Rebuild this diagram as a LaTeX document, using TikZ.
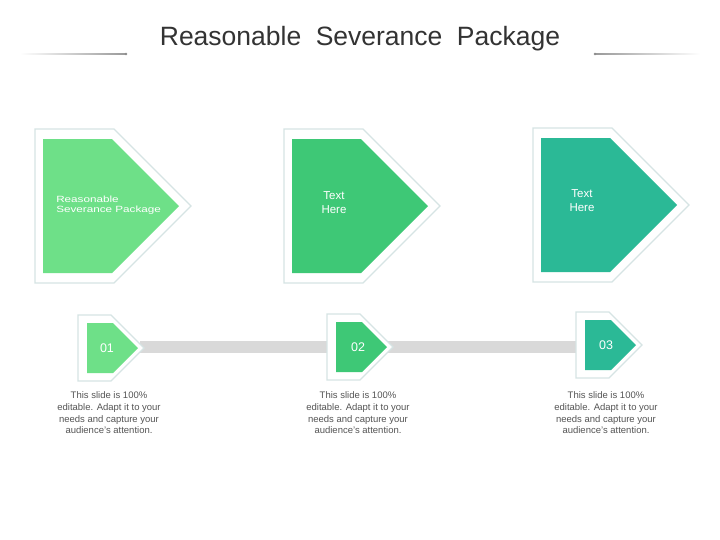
\documentclass[tikz,border=0pt]{standalone}
\usepackage{fontspec}
\setmainfont{Liberation Sans}
\definecolor{gA}{RGB}{110,224,136}
\definecolor{gB}{RGB}{62,200,118}
\definecolor{gC}{RGB}{43,185,150}
\definecolor{outc}{RGB}{214,228,228}
\definecolor{barc}{RGB}{217,217,217}
\definecolor{titlec}{RGB}{51,51,51}
\definecolor{descc}{RGB}{85,85,85}
\newcommand\pent[5]{% style, left, cy, half-height, rect width
  \path[#1] (#2,{#3-#4}) -- ({#2+#5},{#3-#4}) -- ({#2+#5+#4},#3) -- ({#2+#5},{#3+#4}) -- (#2,{#3+#4}) -- cycle;}
\begin{document}
\begin{tikzpicture}[x=1pt,y=-1pt,
  frame/.style={draw=outc, line width=1.1pt, fill=white},
  fillA/.style={fill=gA},
  fillB/.style={fill=gB},
  fillC/.style={fill=gC},
  intext/.style={text=white, font=\fontsize{11.5}{14}\selectfont, align=center, inner sep=0pt},
  numtext/.style={text=white, font=\fontsize{12.5}{14}\selectfont, inner sep=0pt},
  desc/.style={text=descc, font=\fontsize{9.5}{11.7}\selectfont, align=center, inner sep=0pt},
]
\useasboundingbox (0,0) rectangle (720,539);
\fill[white] (0,0) rectangle (720,539);

% title
\node[anchor=base, text=titlec, inner sep=0pt, font=\fontsize{26.5}{30}\selectfont] (title) at (360,45) {\spaceskip=14.5pt\relax Reasonable Severance Package};
\coordinate (ll) at (20,54);
\coordinate (lr) at (126,54);
\coordinate (rl) at (595,54);
\coordinate (rr) at (700,54);
\shade[left color=white, right color=gray!80] (20,53.4) rectangle (126,54.6);
\shade[left color=gray!80, right color=white] (595,53.4) rectangle (700,54.6);
\fill[gray!90] (lr) circle (1.4);
\fill[gray!90] (rl) circle (1.4);

% connecting bar
\coordinate (b0) at (140,347);
\coordinate (b1) at (585,347);
\draw[barc, line width=12pt] (b0) -- (b1);

% big shapes
\pent{frame}{35}{206}{77}{79}
\pent{fillA}{43}{206}{67}{69}
\pent{frame}{284}{206}{77}{79}
\pent{fillB}{292}{206}{67}{69}
\pent{frame}{533}{205}{77}{79}
\pent{fillC}{541}{205}{67}{69}

\node[text=white, font=\fontsize{9}{10.5}\selectfont, align=left, anchor=west, inner sep=0pt, xscale=1.3] (t1) at (56,205) {Reasonable\\Severance Package};
\node[intext] (t2) at (334,203) {Text\\Here};
\node[intext] (t3) at (582,201) {Text\\Here};

% small shapes
\pent{frame}{78}{348}{33}{33}
\pent{fillA}{87}{348}{25}{26}
\pent{frame}{327}{347}{33}{33}
\pent{fillB}{336}{347}{25}{26}
\pent{frame}{576}{345}{33}{33}
\pent{fillC}{585}{345}{25}{26}

\node[numtext] (n1) at (107,348) {01};
\node[numtext] (n2) at (358,347) {02};
\node[numtext] (n3) at (606,345) {03};

% descriptions
\node[desc] (d1) at (109,413) {This slide is 100\%\\editable.  Adapt it to your\\needs and capture your\\audience's attention.};
\node[desc] (d2) at (358,413) {This slide is 100\%\\editable.  Adapt it to your\\needs and capture your\\audience's attention.};
\node[desc] (d3) at (606,413) {This slide is 100\%\\editable.  Adapt it to your\\needs and capture your\\audience's attention.};
\end{tikzpicture}
\end{document}
